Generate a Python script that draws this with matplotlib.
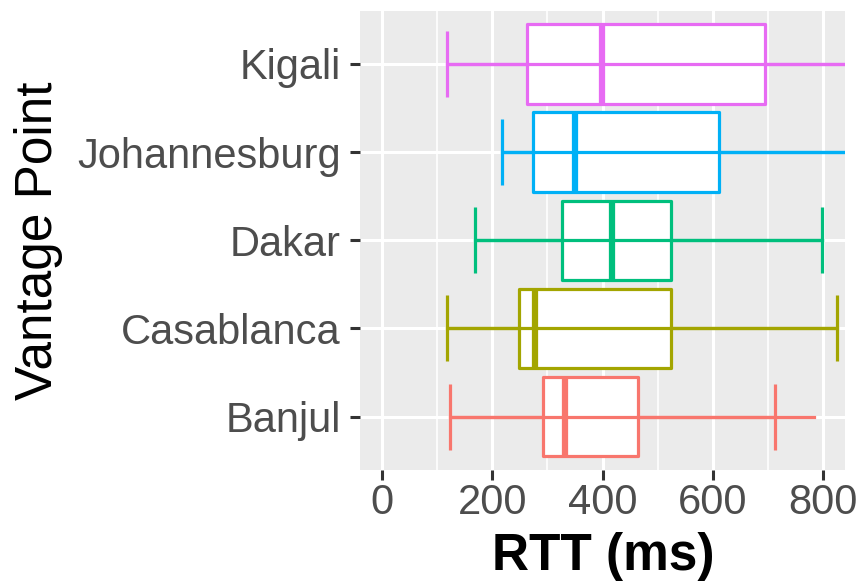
import matplotlib
matplotlib.use("Agg")
import matplotlib.pyplot as plt

plt.rcParams['font.family'] = ['Liberation Sans', 'DejaVu Sans']

# Data (RTT in ms), bottom to top
sites = ["Banjul", "Casablanca", "Dakar", "Johannesburg", "Kigali"]
colors = ["#F8766D", "#A3A500", "#00BF7D", "#00B0F6", "#E76BF3"]
q1 = [292, 248, 326, 273, 263]
median = [332, 278, 417, 350, 399]
q3 = [465, 524, 525, 611, 694]
whisker_lo = [124, 117, 169, 218, 117]
whisker_hi = [784, 826, 798, 1000, 1050]
cap_lo = [124, 117, 169, 218, 117]
cap_hi = [713, 826, 798, 1000, 1050]
x_ticks = [0, 200, 400, 600, 800]

fig = plt.figure(figsize=(8.61, 5.82), dpi=100)
W, H = 861, 582
pl, pr, pt, pb = 360, 845, 11, 469.5
ax = fig.add_axes([pl / W, 1 - pb / H, (pr - pl) / W, (pb - pt) / H])
ax.set_facecolor("#EBEBEB")
for s in ax.spines.values():
    s.set_visible(False)

ax.set_xlim(-40, 840)
ax.set_ylim(0.4, 5.6)
positions = list(range(1, len(sites) + 1))

# grid
for v in [100, 300, 500, 700]:
    ax.axvline(v, color="white", lw=1.2, zorder=0.5)
for v in x_ticks:
    ax.axvline(v, color="white", lw=2.2, zorder=0.6)
for p in positions:
    ax.axhline(p, color="white", lw=2.2, zorder=0.6)

lw = 2.3
for i, p in enumerate(positions):
    c = colors[i]
    stats = [dict(med=median[i], q1=q1[i], q3=q3[i], whislo=whisker_lo[i],
                  whishi=whisker_hi[i], fliers=[])]
    ax.bxp(stats, positions=[p], vert=False, widths=0.9, showcaps=False,
           showfliers=False, patch_artist=True, manage_ticks=False,
           boxprops=dict(facecolor="white", edgecolor=c, linewidth=lw, joinstyle="round"),
           whiskerprops=dict(color=c, linewidth=lw),
           medianprops=dict(color=c, linewidth=4.5, solid_capstyle="butt"),
           zorder=2)
    # errorbar on top
    ax.hlines(p, cap_lo[i], cap_hi[i], color=c, lw=lw, zorder=3)
    ax.vlines([cap_lo[i], cap_hi[i]], p - 0.375, p + 0.375, color=c, lw=lw, zorder=3)

ax.set_xticks(x_ticks)
ax.set_xticklabels([str(v) for v in x_ticks])
ax.set_yticks(positions)
ax.set_yticklabels(sites)
ax.tick_params(axis="both", length=7, width=2.2, color="#333333",
               labelsize=30, labelcolor="#4D4D4D")
ax.tick_params(axis="y", pad=7)
ax.tick_params(axis="x", pad=3)

ax.set_xlabel("RTT (ms)", fontsize=37, fontweight="bold", color="black")
ax.set_ylabel("Vantage Point", fontsize=37, color="black")
ax.xaxis.set_label_coords((603.5 - pl) / (pr - pl), -(532 - pb) / (pb - pt))
ax.yaxis.set_label_coords((63 - pl) / (pr - pl), 0.5)

fig.savefig("out.png", dpi=100, facecolor="white")
